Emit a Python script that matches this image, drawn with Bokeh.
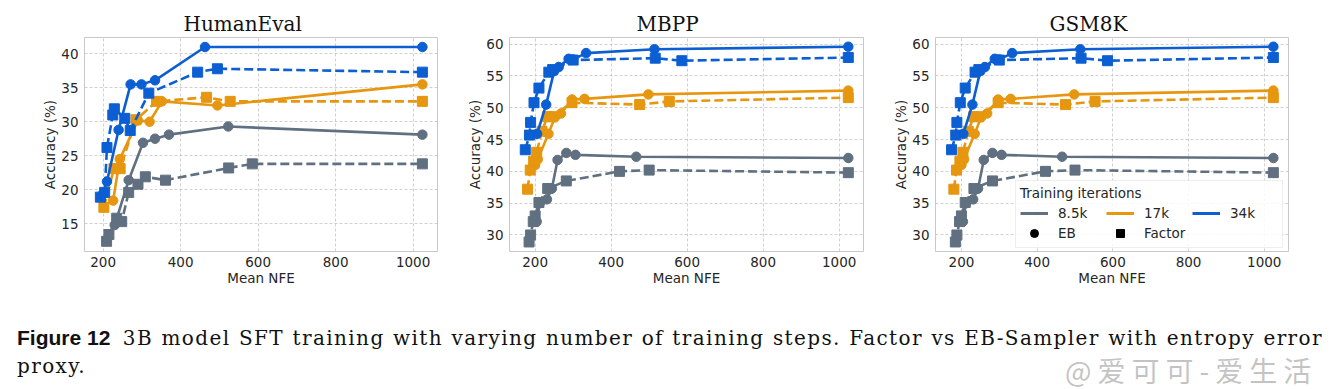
from bokeh.plotting import figure
from bokeh.models import Range1d, Legend, LegendItem, FixedTicker, Div, ColumnDataSource
from bokeh.layouts import row, column
from bokeh.embed import file_html
from bokeh.resources import INLINE

# ---------------- data ----------------
ITERS = ["8.5k", "17k", "34k"]
COLORS = ["#607080", "#e6960f", "#0c5fd2"]

# HumanEval
HE_EB_85_X = [230, 266, 303, 334, 370, 523, 1024]
HE_EB_85_Y = [14.8, 21.4, 26.9, 27.5, 28.1, 29.3, 28.1]
HE_FA_85_X = [209, 215, 235, 248, 266, 290, 309, 361, 524, 585, 1024]
HE_FA_85_Y = [12.4, 13.4, 15.8, 15.3, 19.6, 20.8, 21.9, 21.4, 23.2, 23.8, 23.8]
HE_EB_17_X = [226, 243, 290, 320, 352, 495, 1024]
HE_EB_17_Y = [18.4, 24.5, 30.2, 30.0, 33.0, 32.4, 35.5]
HE_FA_17_X = [202, 228, 244, 285, 338, 467, 528, 1024]
HE_FA_17_Y = [17.4, 23.1, 23.1, 30.3, 33.0, 33.6, 33.0, 33.0]
HE_EB_34_X = [197, 210, 240, 271, 299, 334, 463, 1024]
HE_EB_34_Y = [19.2, 21.2, 28.8, 35.5, 35.5, 36.1, 41.0, 41.0]
HE_FA_34_X = [193, 204, 210, 225, 229, 256, 270, 318, 444, 495, 1024]
HE_FA_34_Y = [18.9, 19.6, 26.2, 31.0, 31.9, 30.5, 28.7, 34.2, 37.3, 37.8, 37.3]

# MBPP
MB_EB_85_X = [204, 212, 231, 244, 259, 282, 306, 466, 1024]
MB_EB_85_Y = [32.1, 35.0, 35.6, 37.3, 41.8, 42.9, 42.6, 42.3, 42.1]
MB_FA_85_X = [184, 188, 195, 200, 210, 233, 282, 422, 500, 1024]
MB_FA_85_Y = [28.9, 30.0, 32.1, 33.0, 35.1, 37.3, 38.5, 40.0, 40.2, 39.8]
MB_EB_17_X = [200, 207, 235, 252, 268, 297, 330, 498, 1024]
MB_EB_17_Y = [41.0, 41.9, 45.9, 48.5, 49.1, 51.3, 51.4, 52.1, 52.7]
MB_FA_17_X = [180, 187, 196, 204, 218, 232, 244, 297, 475, 553, 1024]
MB_FA_17_Y = [37.2, 40.2, 41.6, 43.0, 46.3, 48.6, 48.6, 50.8, 50.5, 51.0, 51.6]
MB_EB_34_X = [205, 229, 250, 262, 288, 300, 334, 514, 1024]
MB_EB_34_Y = [45.9, 50.5, 55.8, 56.4, 57.7, 57.6, 58.6, 59.2, 59.6]
MB_FA_34_X = [174, 185, 188, 197, 210, 236, 246, 300, 516, 586, 1024]
MB_FA_34_Y = [43.4, 45.7, 47.7, 50.8, 53.1, 55.6, 56.0, 57.5, 57.8, 57.4, 57.9]

# GSM8K
GS_EB_85_X = [204, 212, 231, 244, 259, 282, 306, 466, 1024]
GS_EB_85_Y = [32.1, 35.0, 35.6, 37.3, 41.8, 42.9, 42.6, 42.3, 42.1]
GS_FA_85_X = [184, 188, 195, 200, 210, 233, 282, 422, 500, 1024]
GS_FA_85_Y = [28.9, 30.0, 32.1, 33.0, 35.1, 37.3, 38.5, 40.0, 40.2, 39.8]
GS_EB_17_X = [200, 207, 235, 252, 268, 297, 330, 498, 1024]
GS_EB_17_Y = [41.0, 41.9, 45.9, 48.5, 49.1, 51.3, 51.4, 52.1, 52.7]
GS_FA_17_X = [180, 187, 196, 204, 218, 232, 244, 297, 475, 553, 1024]
GS_FA_17_Y = [37.2, 40.2, 41.6, 43.0, 46.3, 48.6, 48.6, 50.8, 50.5, 51.0, 51.6]
GS_EB_34_X = [205, 229, 250, 262, 288, 300, 334, 514, 1024]
GS_EB_34_Y = [45.9, 50.5, 55.8, 56.4, 57.7, 57.6, 58.6, 59.2, 59.6]
GS_FA_34_X = [174, 185, 188, 197, 210, 236, 246, 300, 516, 586, 1024]
GS_FA_34_Y = [43.4, 45.7, 47.7, 50.8, 53.1, 55.6, 56.0, 57.5, 57.8, 57.4, 57.9]

X_TICKS = [200, 400, 600, 800, 1000]
HE_Y_TICKS = [15, 20, 25, 30, 35, 40]
MB_Y_TICKS = [30, 35, 40, 45, 50, 55, 60]

PANELS = [
    dict(title="HumanEval", xr=(152, 1063), yr=(10.9, 42.4), yt=HE_Y_TICKS,
         eb=[(HE_EB_85_X, HE_EB_85_Y), (HE_EB_17_X, HE_EB_17_Y), (HE_EB_34_X, HE_EB_34_Y)],
         fa=[(HE_FA_85_X, HE_FA_85_Y), (HE_FA_17_X, HE_FA_17_Y), (HE_FA_34_X, HE_FA_34_Y)],
         bl=84, fw=353, toff=99),
    dict(title="MBPP", xr=(132.5, 1064), yr=(27.4, 61.05), yt=MB_Y_TICKS,
         eb=[(MB_EB_85_X, MB_EB_85_Y), (MB_EB_17_X, MB_EB_17_Y), (MB_EB_34_X, MB_EB_34_Y)],
         fa=[(MB_FA_85_X, MB_FA_85_Y), (MB_FA_17_X, MB_FA_17_Y), (MB_FA_34_X, MB_FA_34_Y)],
         bl=62, fw=354, toff=127),
    dict(title="GSM8K", xr=(131.5, 1064), yr=(27.4, 61.05), yt=MB_Y_TICKS,
         eb=[(GS_EB_85_X, GS_EB_85_Y), (GS_EB_17_X, GS_EB_17_Y), (GS_EB_34_X, GS_EB_34_Y)],
         fa=[(GS_FA_85_X, GS_FA_85_Y), (GS_FA_17_X, GS_FA_17_Y), (GS_FA_34_X, GS_FA_34_Y)],
         bl=62, fw=353, toff=114),
]

TICK_FONT = "DejaVu Sans"
FS = "13.5px"
TXT = "#262626"

figs = []
for i, P in enumerate(PANELS):
    p = figure(output_backend="svg", toolbar_location=None,
               frame_width=P["fw"], frame_height=214,
               min_border_left=P["bl"], min_border_right=10,
               min_border_top=37, min_border_bottom=49,
               x_range=Range1d(*P["xr"]), y_range=Range1d(*P["yr"]),
               title=P["title"])
    p.title.text_font = "DejaVu Serif"
    p.title.text_font_size = "20px"
    p.title.text_font_style = "normal"
    p.title.text_color = "#111111"
    p.title.align = "left"
    p.title.offset = P["toff"]
    p.title.standoff = 3
    p.background_fill_color = "white"
    p.border_fill_color = "white"
    p.outline_line_color = "#c8c8c8"
    p.outline_line_width = 1

    p.xaxis.ticker = FixedTicker(ticks=X_TICKS)
    p.yaxis.ticker = FixedTicker(ticks=P["yt"])
    for ax in (p.xaxis, p.yaxis):
        ax.axis_line_color = None
        ax.major_tick_line_color = None
        ax.minor_tick_line_color = None
        ax.major_tick_out = 0
        ax.major_tick_in = 0
        ax.minor_tick_out = 0
        ax.minor_tick_in = 0
        ax.major_label_text_font = TICK_FONT
        ax.major_label_text_font_size = FS
        ax.major_label_text_color = TXT
        ax.axis_label_text_font = TICK_FONT
        ax.axis_label_text_font_size = FS
        ax.axis_label_text_font_style = "normal"
        ax.axis_label_text_color = TXT
        ax.major_label_standoff = 5
        ax.axis_label_standoff = 0
    p.yaxis.major_label_standoff = 6
    p.xaxis.axis_label = "Mean NFE"
    p.yaxis.axis_label = "Accuracy (%)"
    p.xgrid.grid_line_color = "#c4c4c4"
    p.ygrid.grid_line_color = "#c4c4c4"
    p.xgrid.grid_line_dash = "3 2"
    p.ygrid.grid_line_dash = "3 2"
    p.xgrid.grid_line_width = 0.8
    p.ygrid.grid_line_width = 0.8

    for k in range(3):
        c = COLORS[k]
        ex, ey = P["eb"][k]
        fx, fy = P["fa"][k]
        p.line(ex, ey, line_color=c, line_width=2.6)
        p.scatter(ex, ey, marker="circle", size=9.5, fill_color=c, line_color=c)
        p.line(fx, fy, line_color=c, line_width=2.6, line_dash="9 4")
        p.scatter(fx, fy, marker="square", size=10, fill_color=c, line_color=c)

    if i == 2:
        off = ColumnDataSource(data=dict(x=[-1e5], y=[-1e5]))
        lines_leg = [p.line("x", "y", source=off, line_color=COLORS[k], line_width=3)
                     for k in range(3)]
        eb_r = p.scatter("x", "y", source=off, marker="circle", size=9,
                         fill_color="black", line_color="black")
        fa_r = p.scatter("x", "y", source=off, marker="square", size=9,
                         fill_color="black", line_color="black")
        items = [
            LegendItem(label=ITERS[0], renderers=[lines_leg[0]]),
            LegendItem(label="EB", renderers=[eb_r]),
            LegendItem(label=ITERS[1], renderers=[lines_leg[1]]),
            LegendItem(label="Factor", renderers=[fa_r]),
            LegendItem(label=ITERS[2], renderers=[lines_leg[2]]),
        ]
        leg = Legend(items=items, ncols=3, location=(80, 3),
                     title="Training iterations")
        leg.title_text_font = TICK_FONT
        leg.title_text_font_size = FS
        leg.title_text_font_style = "normal"
        leg.title_text_color = TXT
        leg.title_standoff = 2
        leg.label_text_font = TICK_FONT
        leg.label_text_font_size = FS
        leg.label_text_color = TXT
        leg.glyph_width = 28
        leg.glyph_height = 20
        leg.label_standoff = 10
        leg.label_width = 48
        leg.label_height = 14
        leg.spacing = 0
        leg.padding = 4
        leg.margin = 0
        leg.border_line_color = "#dddddd"
        leg.background_fill_alpha = 0.85
        p.add_layout(leg, "center")
    figs.append(p)

caption = Div(
    width=1330, height=75,
    text=(
        '<div style="position:relative;width:1306px;margin-left:12px;padding-top:19px;'
        'font-family:\'DejaVu Serif\',serif;font-size:20px;line-height:28px;color:#111;">'
        '<div style="text-align:justify;text-align-last:justify;white-space:nowrap;letter-spacing:1.4px;">'
        '<span style="display:inline-block;font-family:\'Liberation Sans\',sans-serif;'
        'font-weight:bold;font-size:21px;letter-spacing:0;margin-right:4px;">Figure&nbsp;12</span> '
        '3B model SFT training with varying number of training steps. '
        'Factor vs EB-Sampler with entropy error</div>'
        '<div style="letter-spacing:1.4px;">proxy.</div>'
        '<div style="position:absolute;left:1048px;top:50px;font-family:\'Noto Sans CJK SC\',sans-serif;'
        'font-size:28px;line-height:30px;letter-spacing:6px;color:rgba(175,175,175,0.75);'
        'text-shadow:0 0 2px #fff;">@爱可可-爱生活</div>'
        '</div>'
    ),
)

layout = column(row(*figs), caption)
open("out.html", "w").write(file_html(layout, INLINE))
